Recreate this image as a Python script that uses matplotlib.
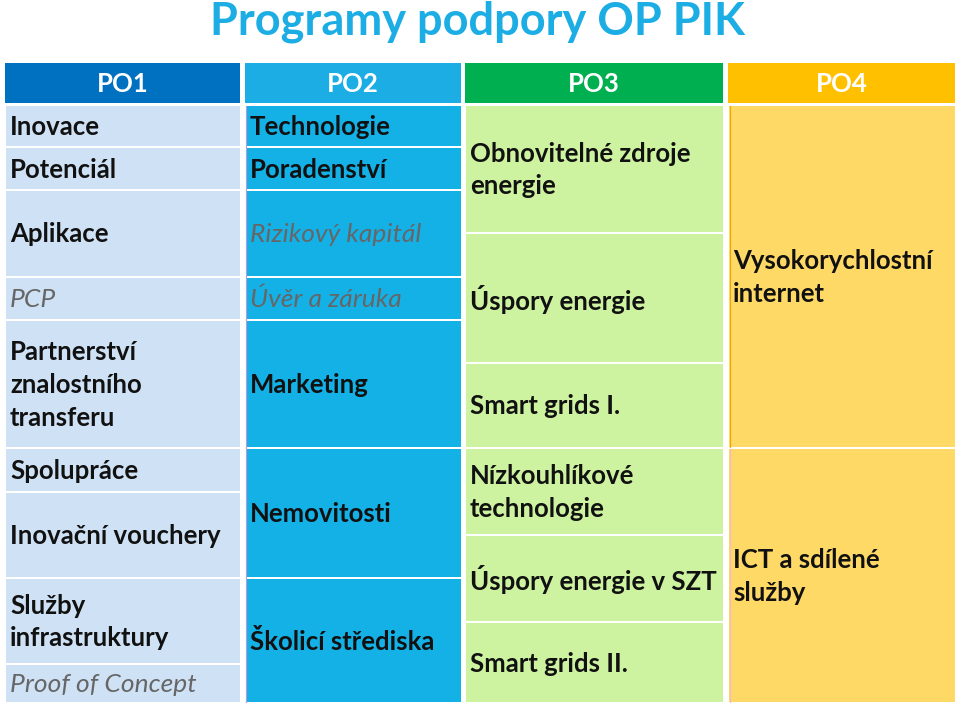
import matplotlib.pyplot as plt
from matplotlib.patches import Rectangle

plt.rcParams['font.family'] = ['Lato', 'DejaVu Sans']

title = "Programy podpory OP PIK"
headers = ["PO1", "PO2", "PO3", "PO4"]

# cell texts per column; '*' marks the grey italic ones
po1 = ["Inovace", "Potenciál", "Aplikace", "*PCP", "Partnerství\nznalostního\ntransferu",
       "Spolupráce", "Inovační vouchery", "Služby\ninfrastruktury", "*Proof of Concept"]
po2 = ["Technologie", "Poradenství", "*Rizikový kapitál", "*Úvěr a záruka",
       "Marketing", "Nemovitosti", "Školicí střediska"]
po3 = ["Obnovitelné zdroje\nenergie", "Úspory energie", "Smart grids I.",
       "Nízkouhlíkové\ntechnologie", "Úspory energie v SZT", "Smart grids II."]
po4 = ["Vysokorychlostní\ninternet", "ICT a sdílené\nslužby"]
columns = [po1, po2, po3, po4]

# layout (pixels)
col_x = [(5, 240), (245, 461), (465, 723), (728, 955)]
row_edges = [
    [105, 147, 190, 277, 320, 448, 492, 578, 664, 703],
    [105, 147, 190, 277, 320, 448, 578, 703],
    [105, 233, 363, 448, 535, 622, 703],
    [105, 448, 703],
]
head_colors = ["#0070C0", "#1CADE4", "#00B050", "#FFC000"]
body_colors = ["#CFE2F5", "#14B1E7", "#CDF2A0", "#FFD966"]

fig = plt.figure(figsize=(9.6, 7.05), dpi=100)
ax = fig.add_axes([0, 0, 1, 1])
ax.set_xlim(0, 960)
ax.set_ylim(705, 0)
ax.axis('off')

ax.text(477, 22, title, ha='center', va='center', fontsize=32.5,
        fontweight='bold', color="#1CADE4")

for c, (x0, x1) in enumerate(col_x):
    ax.add_patch(Rectangle((x0, 63), x1 - x0, 40, color=head_colors[c], lw=0))
    ax.text((x0 + x1) / 2, 84, headers[c], ha='center', va='center',
            fontsize=18.5, fontweight='bold', color='white')
    edges = row_edges[c]
    for i, label in enumerate(columns[c]):
        y0, y1 = edges[i], edges[i + 1]
        ax.add_patch(Rectangle((x0 + 1, y0 + 1), x1 - x0 - 1, y1 - y0 - 2,
                               color=body_colors[c], lw=0))
        if label.startswith('*'):
            ax.text(x0 + 5, (y0 + y1) / 2 + 1, label[1:], ha='left', va='center',
                    fontsize=19, fontstyle='italic', color='#666666',
                    linespacing=1.45)
        else:
            ax.text(x0 + 5, (y0 + y1) / 2 + 1, label, ha='left', va='center',
                    fontsize=18.5, fontweight='bold', color='#111111',
                    linespacing=1.45)

# thin edge lines seen in the original slide
ax.plot([246, 246], [106, 702], color='#B59BE0', lw=0.8)
ax.plot([730, 730], [106, 447], color='#F0A800', lw=0.8)
ax.plot([729.5, 729.5], [449, 702], color='#F4B8C8', lw=0.8)

fig.savefig("out.png", dpi=100, facecolor='white')
